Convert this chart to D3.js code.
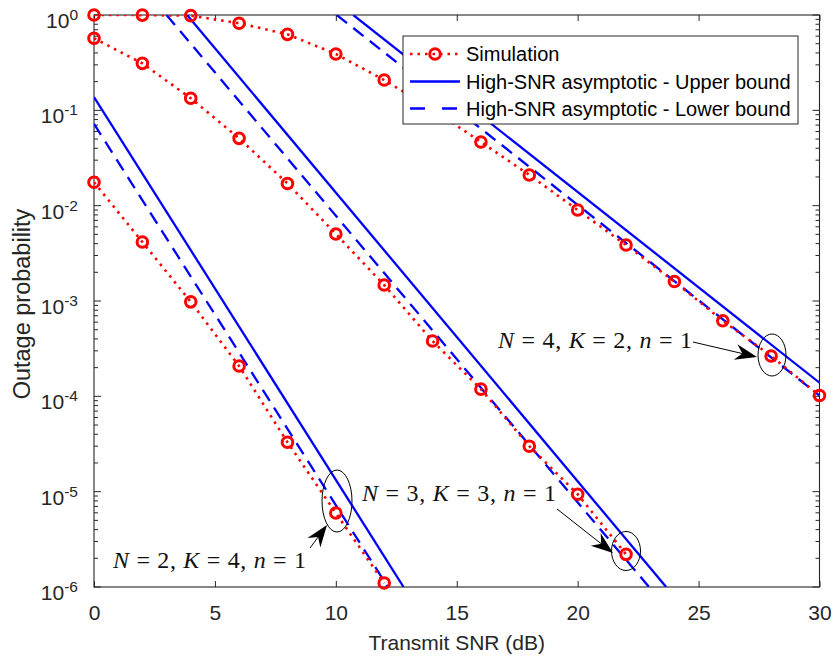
<!DOCTYPE html>
<html><head><meta charset="utf-8">
<script src="https://cdn.jsdelivr.net/npm/d3@7"></script>
<style>body{margin:0;background:#fff}svg{display:block}</style>
</head><body>
<svg id="c" width="833" height="657"></svg>
<script>
// ---- data ----
const xTicks = [0, 5, 10, 15, 20, 25, 30];
const yTickExps = [0, -1, -2, -3, -4, -5, -6];
const snrN2K4 = [0, 2, 4, 6, 8, 10, 12];
const simN2K4 = [0.0176, 0.00416, 9.8e-4, 2.08e-4, 3.3e-5, 5.97e-6, 1.1e-6];
const snrN3K3 = [0, 2, 4, 6, 8, 10, 12, 14, 16, 18, 20, 22];
const simN3K3 = [0.57, 0.311, 0.134, 0.0508, 0.0171, 0.00505, 0.00147, 3.8e-4, 1.19e-4, 3.0e-5, 9.4e-6, 2.2e-6];
const snrN4K2 = [0, 2, 4, 6, 8, 10, 12, 14, 16, 18, 20, 22, 24, 26, 28, 30];
const simN4K2 = [1.0, 0.998, 0.985, 0.82, 0.627, 0.39, 0.208, 0.102, 0.0466, 0.021, 0.009, 0.00387, 0.0016, 6.2e-4, 2.65e-4, 1.02e-4];
// asymptotic lines (straight on log axis): endpoints [snr, value]
const upperN2K4 = [[0, 0.138], [12.8, 1e-6]];
const lowerN2K4 = [[0, 0.072], [12.15, 1e-6]];
const upperN3K3 = [[3.85, 1], [23.66, 1e-6]];
const lowerN3K3 = [[3.0, 1], [22.95, 1e-6]];
const upperN4K2 = [[10.72, 1], [30, 1.39e-4]];
const lowerN4K2 = [[10.04, 1], [30, 1.02e-4]];
const legendLabels = ["Simulation", "High-SNR asymptotic - Upper bound", "High-SNR asymptotic - Lower bound"];

// ---- layout ----
const svg = d3.select("#c");
const L = 94, R = 819.5, T = 15, B = 587;
const x = d3.scaleLinear().domain([0, 30]).range([L, R]);
const y = d3.scaleLog().domain([1e-6, 1]).range([B, T]);
const axisCol = "#262626";
const font = "'Liberation Sans', Arial, Helvetica, sans-serif";

svg.append("defs").append("clipPath").attr("id", "clip")
  .append("rect").attr("x", L).attr("y", T).attr("width", R - L).attr("height", B - T);

// axes box
const ax = svg.append("g");
ax.append("rect").attr("x", L).attr("y", T).attr("width", R - L).attr("height", B - T)
  .attr("fill", "none").attr("stroke", axisCol).attr("stroke-width", 1.1);

// x ticks (bottom & top) via d3 axis
const xb = svg.append("g").attr("transform", `translate(0,${B})`)
  .call(d3.axisBottom(x).tickValues(xTicks).tickSize(-6).tickPadding(18).tickFormat(d3.format("d")));
const xt = svg.append("g").attr("transform", `translate(0,${T})`)
  .call(d3.axisTop(x).tickValues(xTicks).tickSize(-6).tickFormat(""));
[xb, xt].forEach(g => {
  g.select(".domain").remove();
  g.selectAll("line").attr("stroke", axisCol);
  g.selectAll("text").attr("fill", axisCol).style("font-family", font).style("font-size", "21px");
});

// y ticks: majors & minors, left & right
const minors = [];
for (let e = -6; e < 0; e++) for (let m = 2; m <= 9; m++) minors.push(m * Math.pow(10, e));
yTickExps.forEach(e => {
  const v = Math.pow(10, e);
  ax.append("line").attr("x1", L).attr("x2", L + 7).attr("y1", y(v)).attr("y2", y(v)).attr("stroke", axisCol);
  ax.append("line").attr("x1", R).attr("x2", R - 7).attr("y1", y(v)).attr("y2", y(v)).attr("stroke", axisCol);
  const t = ax.append("text").attr("x", 78).attr("y", y(v) + 13).attr("text-anchor", "end")
    .attr("fill", axisCol).style("font-family", font).style("font-size", "21px");
  t.append("tspan").text("10");
  t.append("tspan").attr("dy", -8).style("font-size", "15.5px").text(String(e));
});
minors.forEach(v => {
  ax.append("line").attr("x1", L).attr("x2", L + 4).attr("y1", y(v)).attr("y2", y(v)).attr("stroke", axisCol);
  ax.append("line").attr("x1", R).attr("x2", R - 4).attr("y1", y(v)).attr("y2", y(v)).attr("stroke", axisCol);
});

// axis labels
svg.append("text").attr("x", (L + R) / 2).attr("y", 650).attr("text-anchor", "middle")
  .attr("fill", axisCol).style("font-family", font).style("font-size", "21px").text("Transmit SNR (dB)");
svg.append("text").attr("transform", `translate(30,${(T + B) / 2 + 3}) rotate(-90)`).attr("text-anchor", "middle")
  .attr("fill", axisCol).style("font-family", font).style("font-size", "23.5px").text("Outage probability");

// lines
const plot = svg.append("g").attr("clip-path", "url(#clip)");
const line = d3.line().x(d => x(d[0])).y(d => y(d[1]));
const blue = "#0000ff", red = "#ff0000";
const bounds = [
  [upperN2K4, false], [lowerN2K4, true],
  [upperN3K3, false], [lowerN3K3, true],
  [upperN4K2, false], [lowerN4K2, true]
];
bounds.forEach(([pts, dashed]) => {
  plot.append("path").attr("d", line(pts)).attr("fill", "none").attr("stroke", blue)
    .attr("stroke-width", 2.3).attr("stroke-dasharray", dashed ? "13,8" : null);
});
const sims = [[snrN2K4, simN2K4], [snrN3K3, simN3K3], [snrN4K2, simN4K2]];
sims.forEach(([xs, vs]) => {
  const pts = xs.map((s, i) => [s, vs[i]]);
  plot.append("path").attr("d", line(pts)).attr("fill", "none").attr("stroke", red)
    .attr("stroke-width", 2.6).attr("stroke-dasharray", "2.5,5");
});
sims.forEach(([xs, vs]) => {
  svg.append("g").selectAll("circle").data(xs.map((s, i) => [s, vs[i]])).join("circle")
    .attr("cx", d => x(d[0])).attr("cy", d => y(d[1])).attr("r", 5.3)
    .attr("fill", "none").attr("stroke", red).attr("stroke-width", 3);
});

// annotations
const ann = svg.append("g");
function mathText(xp, yp, nv, kv, width) {
  const t = ann.append("text").attr("x", xp).attr("y", yp)
    .style("font-family", "'Liberation Serif', 'Times New Roman', serif").style("font-size", "24px")
    .attr("fill", "#111").attr("textLength", width).attr("lengthAdjust", "spacing");
  t.append("tspan").style("font-style", "italic").text("N");
  t.append("tspan").text(" = " + nv + ", ");
  t.append("tspan").style("font-style", "italic").text("K");
  t.append("tspan").text(" = " + kv + ", ");
  t.append("tspan").style("font-style", "italic").text("n");
  t.append("tspan").text(" = 1");
}
mathText(498, 348, 4, 2, 194);
mathText(362, 501, 3, 3, 194);
mathText(113, 568, 2, 4, 193);

function arrow(x1, y1, x2, y2) {
  const ang = Math.atan2(y2 - y1, x2 - x1);
  const hl = 22, hw = 8, back = 15;
  const bx = x2 - hl * Math.cos(ang), by = y2 - hl * Math.sin(ang);
  const mx = x2 - back * Math.cos(ang), my = y2 - back * Math.sin(ang);
  const px = -Math.sin(ang), py = Math.cos(ang);
  ann.append("line").attr("x1", x1).attr("y1", y1).attr("x2", mx).attr("y2", my)
    .attr("stroke", "#000").attr("stroke-width", 1);
  ann.append("path").attr("d", `M${x2},${y2} L${bx + px * hw},${by + py * hw} L${mx},${my} L${bx - px * hw},${by - py * hw} Z`)
    .attr("fill", "#000");
}
arrow(693, 342, 757, 357);
arrow(557, 509, 613, 553);
arrow(310, 548, 327, 525);

[[772, 355, 14, 21], [626, 551, 14.5, 19.5], [337, 501, 15, 31]].forEach(([cx, cy, rx, ry]) => {
  ann.append("ellipse").attr("cx", cx).attr("cy", cy).attr("rx", rx).attr("ry", ry)
    .attr("fill", "none").attr("stroke", "#000").attr("stroke-width", 1);
});

// legend
const lg = svg.append("g");
lg.append("rect").attr("x", 403).attr("y", 36).attr("width", 395).attr("height", 88)
  .attr("fill", "#fff").attr("stroke", axisCol).attr("stroke-width", 1);
const rows = [54, 81.5, 108.5];
lg.append("line").attr("x1", 410).attr("x2", 460).attr("y1", rows[0]).attr("y2", rows[0])
  .attr("stroke", red).attr("stroke-width", 2.6).attr("stroke-dasharray", "2.5,5");
lg.append("circle").attr("cx", 435).attr("cy", rows[0]).attr("r", 5.3)
  .attr("fill", "none").attr("stroke", red).attr("stroke-width", 3);
lg.append("line").attr("x1", 410).attr("x2", 460).attr("y1", rows[1]).attr("y2", rows[1])
  .attr("stroke", blue).attr("stroke-width", 2.3);
lg.append("line").attr("x1", 410).attr("x2", 460).attr("y1", rows[2]).attr("y2", rows[2])
  .attr("stroke", blue).attr("stroke-width", 2.3).attr("stroke-dasharray", "15,17");
legendLabels.forEach((s, i) => {
  lg.append("text").attr("x", 466).attr("y", rows[i] + 7).attr("fill", "#000")
    .style("font-family", font).style("font-size", "20px").text(s);
});
</script>
</body></html>
